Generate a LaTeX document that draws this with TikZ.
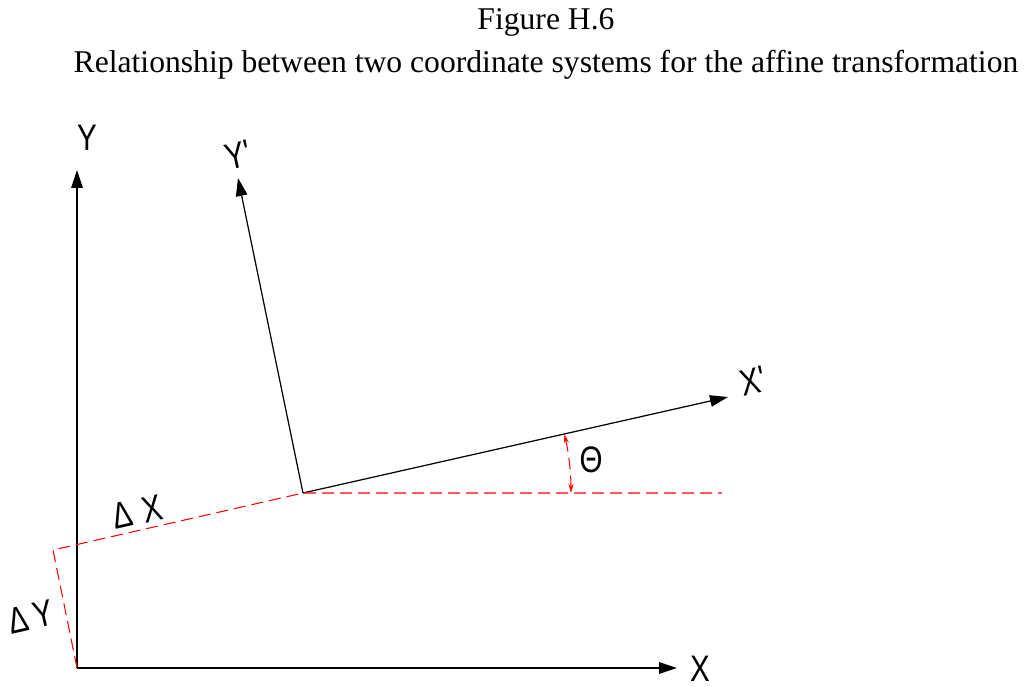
\documentclass[tikz,border=0pt]{standalone}
\usepackage{fontspec}
\usetikzlibrary{positioning,arrows.meta}
\setmainfont{Liberation Serif}
\newfontfamily\cadfont[FakeStretch=0.8]{Liberation Sans}
\definecolor{cadred}{HTML}{FF0000}
\newcommand{\cadDelta}{\char"0394}
\begin{document}
\begin{tikzpicture}[x=0.2mm,y=-0.2mm,axis/.style={line width=.7pt,-{Triangle[length=3.6mm,width=2.3mm]}},offset/.style={draw=cadred,line width=.6pt,dash pattern=on 2.4mm off 1.2mm},cad/.style={font=\cadfont\fontsize{21}{21}\selectfont,inner sep=0pt}]
\useasboundingbox (0,0) rectangle (1031,687);
\node[font=\fontsize{18}{24}\selectfont,align=center] (title) at (546,44) {Figure H.6\\Relationship between two coordinate systems for the affine transformation};
\coordinate (orig) at (77,668);
\coordinate (xtip) at (677,668);
\coordinate (ytip) at (77,170);
\coordinate (origp) at (303,493);
\coordinate (xptip) at (728,397);
\coordinate (yptip) at (238,178);
\coordinate (corner) at (53,550);
\coordinate (hend) at (722,493);
\coordinate (hmid) at (571,493);
\node[cad] (xlabel) at (700,669) {X};
\node[cad] (ylabel) at (87,138) {Y};
\node[cad,rotate=12.7] (xplabel) at (753,381) {X'};
\node[cad,rotate=12.7] (yplabel) at (238,155) {Y'};
\node[cad,rotate=12.7] (dxlabel) at (137,512) {\cadDelta\hspace{.3em}X};
\node[cad,rotate=12.7] (dylabel) at (31,617) {\cadDelta\hspace{.15em}Y};
\node[cad] (thetalabel) at (591,460) {\char"0398};
\foreach \a/\b in {orig/xtip,orig/ytip,origp/xptip,origp/yptip}{\draw[axis] (\a) -- (\b);}
\draw[offset] (orig) -- (corner) -- (origp) -- (hend);
\draw[offset,{Stealth[length=1.8mm,width=1mm]}-{Stealth[length=1.8mm,width=1mm]}] (hmid) arc[start angle=0,end angle=-12.7,radius=268];
\end{tikzpicture}
\end{document}
